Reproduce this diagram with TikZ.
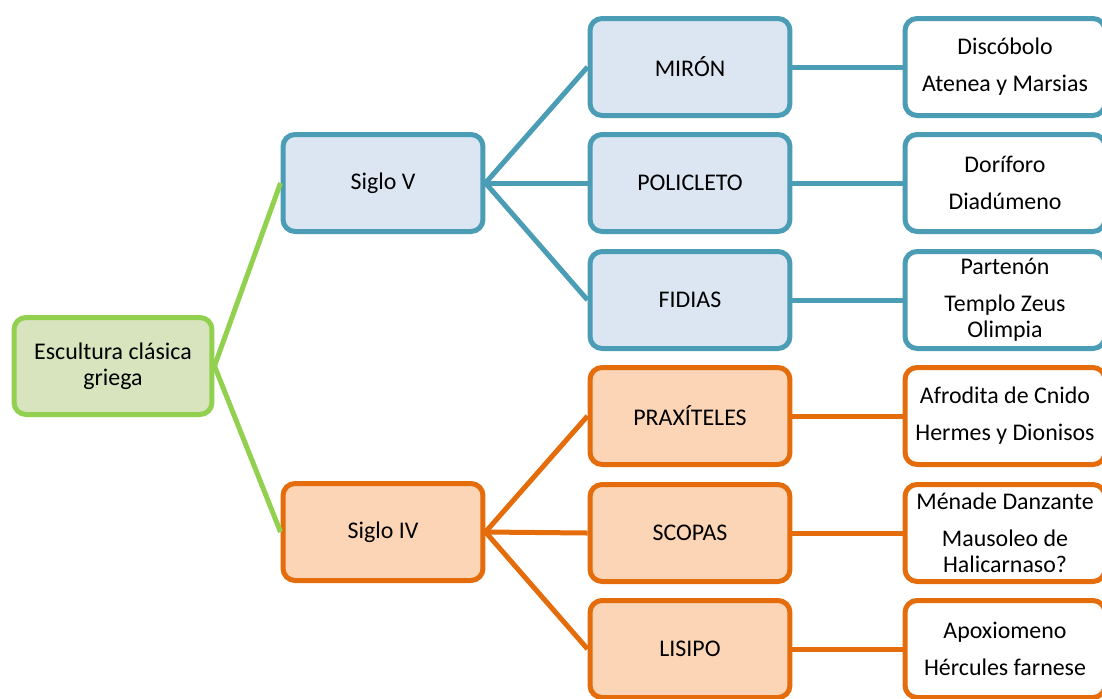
\documentclass[tikz,border=0pt]{standalone}
\usepackage{fontspec}
\setmainfont{Carlito}
\definecolor{greenline}{HTML}{92D050}
\definecolor{greenfill}{HTML}{D7E4BD}
\definecolor{blueline}{HTML}{4A9DB5}
\definecolor{bluefill}{HTML}{DCE6F2}
\definecolor{orangeline}{HTML}{E46C0A}
\definecolor{orangefill}{HTML}{FBD5B5}
\tikzset{
  box/.style={rectangle, rounded corners=0.24cm, line width=0.1cm, minimum width=4cm, minimum height=1.94cm, align=center, inner sep=1pt, font=\fontsize{13.6}{15}\selectfont},
  rootbox/.style={box, draw=greenline, fill=greenfill},
  bluebox/.style={box, draw=blueline, fill=bluefill},
  orangebox/.style={box, draw=orangeline, fill=orangefill},
  bluework/.style={box, draw=blueline, fill=white},
  orangework/.style={box, draw=orangeline, fill=white},
  blink/.style={draw=blueline, line width=0.1cm},
  olink/.style={draw=orangeline, line width=0.1cm},
  glink/.style={draw=greenline, line width=0.1cm}
}
\begin{document}
\begin{tikzpicture}[x=0.02cm, y=-0.02cm]
          \useasboundingbox (0, 0) rectangle (1102, 698);
          \clip (0, 0) rectangle (1102, 698);
          \node[rootbox, minimum width=3.96cm] (G) at (113, 366) {Escultura clásica\\griega};
          \node[bluebox] (S0) at (383, 183) {Siglo V};
          \node[orangebox] (S1) at (383, 532) {Siglo IV};
          \node[bluebox] (A0) at (690, 67) {MIRÓN};
          \node[bluebox] (A1) at (690, 183) {POLICLETO};
          \node[bluebox] (A2) at (690, 300) {FIDIAS};
          \node[orangebox] (A3) at (690, 416) {PRAXÍTELES};
          \node[orangebox] (A4) at (690, 533) {SCOPAS};
          \node[orangebox] (A5) at (690, 649) {LISIPO};
          \node[bluework] (W0) at (1005, 67) {Discóbolo\\[6pt]Atenea y Marsias};
          \node[bluework] (W1) at (1005, 183) {Doríforo\\[6pt]Diadúmeno};
          \node[bluework] (W2) at (1005, 300) {Partenón\\[6pt]Templo Zeus\\Olimpia};
          \node[orangework] (W3) at (1005, 416) {Afrodita de Cnido\\[6pt]Hermes y Dionisos};
          \node[orangework] (W4) at (1005, 533) {Ménade Danzante\\[6pt]Mausoleo de\\Halicarnaso?};
          \node[orangework] (W5) at (1005, 649) {Apoxiomeno\\[6pt]Hércules farnese};
          \draw[glink] (G.east) -- (S0.west);
          \draw[glink] (G.east) -- (S1.west);
          \draw[blink] (S0.east) -- (A0.west);
          \draw[blink] (S0.east) -- (A1.west);
          \draw[blink] (S0.east) -- (A2.west);
          \draw[olink] (S1.east) -- (A3.west);
          \draw[olink] (S1.east) -- (A4.west);
          \draw[olink] (S1.east) -- (A5.west);
          \draw[blink] (A0.east) -- (W0.west);
          \draw[blink] (A1.east) -- (W1.west);
          \draw[blink] (A2.east) -- (W2.west);
          \draw[olink] (A3.east) -- (W3.west);
          \draw[olink] (A4.east) -- (W4.west);
          \draw[olink] (A5.east) -- (W5.west);
        \end{tikzpicture}
\end{document}
